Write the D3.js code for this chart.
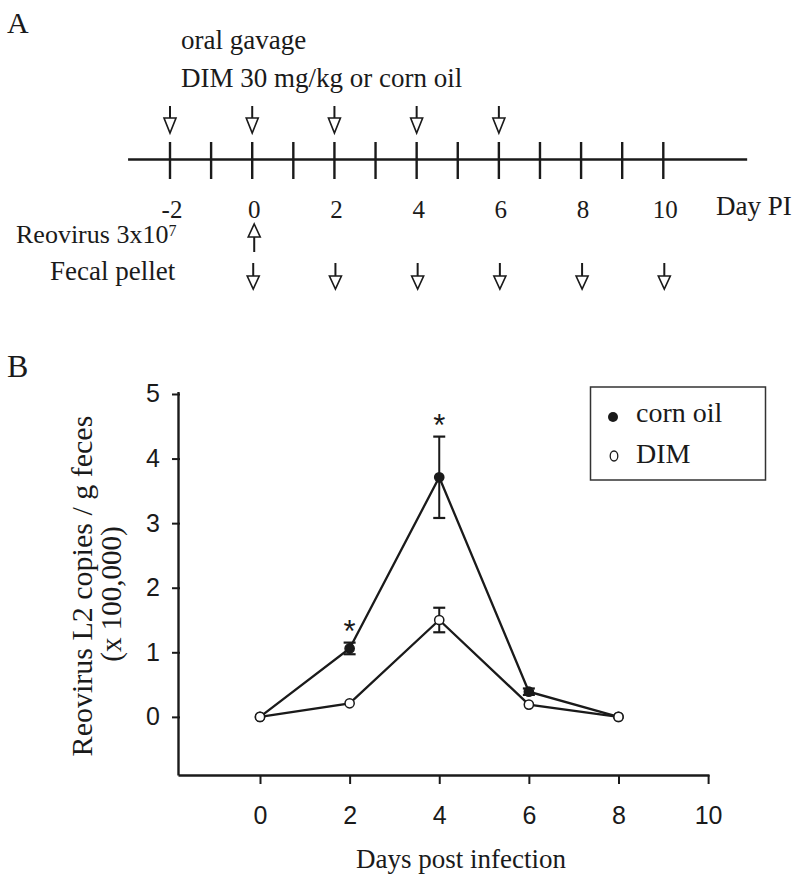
<!DOCTYPE html>
<html>
<head>
<meta charset="utf-8">
<script src="https://cdn.jsdelivr.net/npm/d3@7"></script>
<style>
  html, body { margin: 0; padding: 0; background: #fff; }
  svg { display: block; }
  .serif { font-family: "Liberation Serif", "Times New Roman", serif; fill: #1a1a1a; }
  .sans { font-family: "Liberation Sans", Arial, sans-serif; fill: #1a1a1a; }
</style>
</head>
<body>
<svg id="chart" width="800" height="885"></svg>
<script>
// ---------- Panel A (timeline) data ----------
const timelineDays = [-2, -1, 0, 1, 2, 3, 4, 5, 6, 7, 8, 9, 10];
const timelineLabels = [-2, 0, 2, 4, 6, 8, 10];
const gavageDays = [-2, 0, 2, 4, 6];
const virusDays = [0];
const fecalDays = [0, 2, 4, 6, 8, 10];

// ---------- Panel B (line chart) data ----------
const days = [0, 2, 4, 6, 8];
const cornOil = [0, 1.06, 3.71, 0.39, 0];
const cornOilErr = [0, 0.09, 0.63, 0.05, 0];
const dim = [0, 0.21, 1.50, 0.19, 0];
const dimErr = [0, 0, 0.19, 0, 0];
const significant = [2, 4];
const yTicks = [0, 1, 2, 3, 4, 5];
const xTicks = [0, 2, 4, 6, 8, 10];
const seriesNames = ["corn oil", "DIM"];

const svg = d3.select("#chart");
const ink = "#1a1a1a";
const SERIF = '"Liberation Serif", "Times New Roman", serif';
const SANS = '"Liberation Sans", Arial, sans-serif';

// ================= Panel A =================
svg.append("text").attr("class", "serif").attr("x", 7).attr("y", 33)
  .style("font-size", "30px").text("A");

svg.append("text").attr("class", "serif").attr("x", 181).attr("y", 49)
  .style("font-size", "27px").text("oral gavage");
svg.append("text").attr("class", "serif").attr("x", 181).attr("y", 87)
  .style("font-size", "27px").text("DIM 30 mg/kg or corn oil");

const xA = d3.scaleLinear().domain([-2, 10]).range([170, 663.3]);
const gA = svg.append("g");
gA.append("line")
  .attr("x1", xA(-3.02)).attr("x2", xA(12.04))
  .attr("y1", 159.5).attr("y2", 159.5)
  .attr("stroke", ink).attr("stroke-width", 2.6);
gA.selectAll("line.tk").data(timelineDays).join("line").attr("class", "tk")
  .attr("x1", d => xA(d)).attr("x2", d => xA(d))
  .attr("y1", 142).attr("y2", 179)
  .attr("stroke", ink).attr("stroke-width", 2.4);
gA.selectAll("text.tl").data(timelineLabels).join("text").attr("class", "tl")
  .attr("x", d => xA(d) + 2).attr("y", 218)
  .attr("text-anchor", "middle")
  .style("font-family", SERIF).style("font-size", "25px").attr("fill", ink)
  .text(d => d < 0 ? "-" + Math.abs(d) : d);
svg.append("text").attr("class", "serif").attr("x", 716).attr("y", 215)
  .style("font-size", "27px").text("Day PI");

// open-head arrows
function downArrow(g, x, yTop, shaft, head, w) {
  g.append("line").attr("x1", x).attr("x2", x).attr("y1", yTop).attr("y2", yTop + shaft)
    .attr("stroke", ink).attr("stroke-width", 2);
  g.append("path")
    .attr("d", `M${x - w / 2},${yTop + shaft} L${x + w / 2},${yTop + shaft} L${x},${yTop + shaft + head} Z`)
    .attr("fill", "#fff").attr("stroke", ink).attr("stroke-width", 1.6).attr("stroke-linejoin", "miter");
}
function upArrow(g, x, yTop, shaft, head, w) {
  g.append("path")
    .attr("d", `M${x},${yTop} L${x + w / 2},${yTop + head} L${x - w / 2},${yTop + head} Z`)
    .attr("fill", "#fff").attr("stroke", ink).attr("stroke-width", 1.6);
  g.append("line").attr("x1", x).attr("x2", x).attr("y1", yTop + head).attr("y2", yTop + head + shaft)
    .attr("stroke", ink).attr("stroke-width", 2);
}
gavageDays.forEach(d => downArrow(gA, xA(d), 106, 12, 15, 12));
virusDays.forEach(d => upArrow(gA, xA(d) + 2, 224, 15, 13, 12));
fecalDays.forEach(d => downArrow(gA, xA(d) + 1, 263, 13, 13, 12));

const reo = svg.append("text").attr("class", "serif").attr("x", 16).attr("y", 243)
  .style("font-size", "26px");
reo.append("tspan").text("Reovirus 3x10");
reo.append("tspan").attr("dy", -7).style("font-size", "16px").text("7");
svg.append("text").attr("class", "serif").attr("x", 50).attr("y", 280)
  .style("font-size", "27px").text("Fecal pellet");

// ================= Panel B =================
svg.append("text").attr("class", "serif").attr("x", 7).attr("y", 377)
  .style("font-size", "32px").text("B");

const x = d3.scaleLinear().domain([-1.83, 10.02]).range([178, 709]);
const y = d3.scaleLinear().domain([-0.9, 5.04]).range([775, 391.4]);

const xAxis = svg.append("g").attr("transform", "translate(0,775)")
  .call(d3.axisBottom(x).tickValues(xTicks).tickFormat(d3.format("d"))
    .tickSize(9).tickSizeOuter(0).tickPadding(22));
xAxis.select(".domain").attr("stroke", ink).attr("stroke-width", 2.4);
xAxis.selectAll(".tick line").attr("stroke", ink).attr("stroke-width", 2);
xAxis.selectAll(".tick text").style("font-size", "25px")
  .style("font-family", SANS).attr("fill", ink);

const yAxis = svg.append("g").attr("transform", "translate(178,0)")
  .call(d3.axisLeft(y).tickValues(yTicks).tickFormat(d3.format("d"))
    .tickSize(6).tickSizeOuter(0).tickPadding(12));
yAxis.select(".domain").attr("stroke", ink).attr("stroke-width", 2.4);
yAxis.selectAll(".tick line").attr("stroke", ink).attr("stroke-width", 2).attr("x2", -6).attr("x1", 2);
yAxis.selectAll(".tick text").style("font-size", "25px")
  .style("font-family", SANS).attr("fill", ink);

// axis titles
svg.append("text").attr("class", "serif").attr("x", 461).attr("y", 868)
  .attr("text-anchor", "middle").style("font-size", "27px").text("Days post infection");
svg.append("text").attr("class", "serif")
  .attr("transform", "translate(92,586) rotate(-90)")
  .attr("text-anchor", "middle").style("font-size", "30px")
  .text("Reovirus L2 copies / g feces");
svg.append("text").attr("class", "serif")
  .attr("transform", "translate(121,594) rotate(-90)")
  .attr("text-anchor", "middle").style("font-size", "29px")
  .text("(x 100,000)");

const line = d3.line().x(d => x(d[0])).y(d => y(d[1]));
function drawSeries(vals, errs, filled) {
  const pts = days.map((d, i) => [d, vals[i], errs[i]]);
  const g = svg.append("g");
  g.append("path").datum(pts).attr("d", line)
    .attr("fill", "none").attr("stroke", ink).attr("stroke-width", 2.3);
  const eb = pts.filter(p => p[2] > 0);
  eb.forEach(p => {
    const cx = x(p[0]);
    g.append("line").attr("x1", cx).attr("x2", cx)
      .attr("y1", y(p[1] + p[2])).attr("y2", y(p[1] - p[2]))
      .attr("stroke", ink).attr("stroke-width", 2);
    [p[1] + p[2], p[1] - p[2]].forEach(v => {
      g.append("line").attr("x1", cx - 6).attr("x2", cx + 6)
        .attr("y1", y(v)).attr("y2", y(v))
        .attr("stroke", ink).attr("stroke-width", 2.2);
    });
  });
  g.selectAll("circle").data(pts).join("circle")
    .attr("cx", d => x(d[0])).attr("cy", d => y(d[1])).attr("r", 4.6)
    .attr("fill", filled ? ink : "#fff").attr("stroke", ink).attr("stroke-width", 1.5);
}
drawSeries(cornOil, cornOilErr, true);
drawSeries(dim, dimErr, false);

// significance asterisks
significant.forEach(d => {
  const i = days.indexOf(d);
  svg.append("text")
    .attr("x", x(d)).attr("y", y(cornOil[i] + cornOilErr[i]) - 1)
    .attr("text-anchor", "middle")
    .style("font-family", SANS).style("font-size", "31px").attr("fill", ink).text("*");
});

// legend
const lg = svg.append("g");
lg.append("rect").attr("x", 590.5).attr("y", 387).attr("width", 175).attr("height", 93)
  .attr("fill", "#fff").attr("stroke", "#333").attr("stroke-width", 1.5);
lg.append("circle").attr("cx", 613).attr("cy", 417).attr("r", 5).attr("fill", ink);
lg.append("text").attr("class", "serif").attr("x", 636).attr("y", 422)
  .style("font-size", "28px").text(seriesNames[0]);
lg.append("ellipse").attr("cx", 614).attr("cy", 456).attr("rx", 3.8).attr("ry", 5)
  .attr("fill", "#fff").attr("stroke", ink).attr("stroke-width", 1.3);
lg.append("text").attr("class", "serif").attr("x", 636).attr("y", 463)
  .style("font-size", "28px").text(seriesNames[1]);
</script>
</body>
</html>
